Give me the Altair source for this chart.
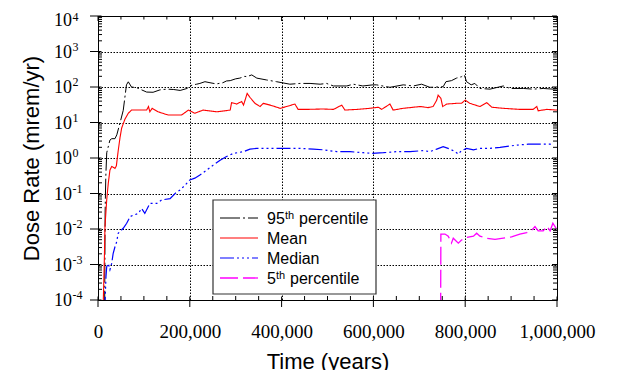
import altair as alt
import pandas as pd

# ---------------- data ----------------
names = ["95th percentile", "Mean", "Median", "5th percentile"]
colors = ["#000000", "#ff0000", "#0000ff", "#ff00ff"]

t_p95 = [14500, 15500, 17000, 19000, 22000, 26000, 30000, 37000, 41000, 48000, 55000, 62000, 66000,
         73000, 85000, 95000, 106000, 120000, 135000, 150000, 165000, 179000, 194000, 200000, 207000,
         215000, 222000, 233000, 244000, 258000, 272000, 280000, 288000, 300000, 309000, 320000, 324000,
         335000, 346000, 367000, 389000, 418000, 440000, 462000, 484000, 498000, 513000, 542000, 556000,
         577000, 599000, 607000, 636000, 665000, 687000, 705000, 723000, 752000, 758000, 770000, 781000,
         792000, 798000, 803000, 813000, 821000, 832000, 854000, 883000, 898000, 927000, 948000, 970000,
         992000, 1000000]
v_p95 = [5e-5, 0.03, 0.3, 1.4, 2.0, 3.2, 3.5, 3.5, 4.5, 9.8, 22, 115, 140, 100, 95, 83, 72, 71, 83, 87,
         85, 80, 91, 107, 115, 120, 126, 141, 132, 122, 132, 148, 151, 170, 178, 200, 195, 219, 178, 158,
         141, 120, 126, 126, 120, 126, 107, 107, 120, 107, 115, 115, 98, 115, 107, 120, 98, 102, 141, 151,
         178, 195, 219, 141, 115, 126, 91, 87, 107, 91, 91, 87, 91, 87, 89]

t_mean = [11000, 13800, 15200, 19000, 22400, 26000, 29800, 33000, 37000, 40000, 44000, 48000, 51600,
          58800, 66000, 73000, 88000, 106000, 110000, 113000, 118000, 131000, 153000, 182000, 197000,
          211000, 229000, 259000, 288000, 291000, 302000, 313000, 317000, 325000, 331000, 342000, 353000,
          360000, 375000, 397000, 411000, 429000, 436000, 455000, 490000, 513000, 531000, 538000, 564000,
          592000, 611000, 618000, 636000, 643000, 665000, 702000, 719000, 730000, 738000, 741000, 747000,
          751000, 760000, 781000, 792000, 800000, 810000, 832000, 847000, 858000, 883000, 919000, 948000,
          956000, 959000, 978000, 1000000]
v_mean = [5e-5, 1.35e-3, 0.0117, 0.066, 0.195, 0.457, 0.575, 0.55, 0.51, 0.6, 1.6, 3.8, 7.0, 12.5, 18.2,
          22.4, 22.4, 22.4, 28.2, 20, 25.1, 20, 16.2, 16.2, 22.4, 18.2, 22.4, 20, 22.4, 36.3, 33.1, 38.9,
          30.9, 66, 51.3, 34.7, 28.2, 34.7, 30.9, 25.1, 28.2, 33.1, 23.4, 23.4, 24, 23.4, 30.9, 22.4, 23.4,
          25.1, 26.9, 23.4, 33.1, 22.4, 25.1, 28.2, 26.3, 28.2, 42.7, 58.9, 47.9, 28.2, 33.1, 34.7, 34.7,
          42.7, 34.7, 28.2, 36.3, 26.9, 25.1, 23.4, 23.4, 28.2, 21.4, 23.4, 22.4]

t_med = [15000, 16000, 17400, 19000, 22400, 26000, 29800, 33000, 37000, 40700, 44000, 55000, 62500, 70000,
         77000, 88000, 95000, 102000, 113000, 128000, 139000, 157000, 168000, 179000, 190000, 200000,
         211000, 222000, 237000, 251000, 266000, 280000, 295000, 317000, 331000, 346000, 397000, 440000,
         469000, 491000, 520000, 549000, 578000, 596000, 622000, 651000, 680000, 709000, 723000, 738000,
         752000, 767000, 778000, 785000, 792000, 803000, 818000, 832000, 854000, 876000, 898000, 919000,
         937000, 985000, 992000]
v_med = [5e-5, 1.5e-4, 4.6e-4, 8.7e-4, 1.07e-3, 7.1e-4, 1.07e-3, 2.04e-3, 3.16e-3, 4.37e-3, 7.6e-3,
         0.0105, 0.0145, 0.0224, 0.0245, 0.0275, 0.038, 0.0275, 0.0525, 0.0525, 0.066, 0.072, 0.1, 0.126,
         0.174, 0.24, 0.27, 0.33, 0.457, 0.63, 0.87, 1.10, 1.35, 1.51, 1.78, 1.86, 1.86, 1.86, 1.78, 1.70,
         1.51, 1.51, 1.41, 1.35, 1.41, 1.51, 1.51, 1.62, 1.51, 1.78, 2.09, 1.78, 1.51, 1.29, 1.62, 1.86,
         1.70, 1.86, 1.86, 2.0, 2.19, 2.34, 2.45, 2.45, 2.34]

t_p5 = [746500, 747000, 756000, 763000, 770000, 774000, 785000, 792000, 803000, 818000, 825000, 832000,
        847000, 865000, 883000, 901000, 919000, 934000, 945000, 952000, 959000, 970000, 978000, 985000,
        991000, 999000]
v_p5 = [5e-5, 7.2e-3, 7.2e-3, 6.3e-3, 4.0e-3, 5.5e-3, 4.0e-3, 4.9e-3, 5.75e-3, 6.3e-3, 7.6e-3, 6.3e-3,
        5.5e-3, 5.1e-3, 5.5e-3, 6.0e-3, 7.2e-3, 7.9e-3, 9.3e-3, 0.0117, 8.9e-3, 8.9e-3, 0.012, 8.9e-3,
        0.0145, 0.01]

x_major = [0, 200000, 400000, 600000, 800000, 1000000]
x_minor = [k * 50000 for k in range(21) if k % 4]
y_major = [1e-4, 1e-3, 1e-2, 1e-1, 1e0, 1e1, 1e2, 1e3]
y_exp = ["-4", "-3", "-2", "-1", "0", "1", "2", "3"]
y_top = [1e4]
y_top_exp = ["4"]
y_minor = [m * 10.0 ** k for k in range(-4, 4) for m in range(2, 10)]

legend_main = ["95", "Mean", "Median", "5"]

# ---------------- frames ----------------
series = [(names[0], t_p95, v_p95), (names[1], t_mean, v_mean),
          (names[2], t_med, v_med), (names[3], t_p5, v_p5)]
df = pd.concat([pd.DataFrame({"name": n, "t": t, "dose": v}) for n, t, v in series], ignore_index=True)
df["order"] = df["name"].map({n: i for i, n in enumerate(names)})

W, H = 459, 284
SERIF = "Liberation Serif"
SANS = "Liberation Sans"

xscale = alt.Scale(domain=[0, 1000000], nice=False, zero=False)
yscale = alt.Scale(type="log", domain=[1e-4, 1e4], nice=False)
lscale = alt.Scale(type="point", domain=names, range=[202, 262], padding=0)

x_axis = alt.Axis(
    values=x_major, format=",d", grid=True, ticks=False, domain=False,
    labelFont=SERIF, labelFontSize=19, labelColor="black", labelFlush=False,
    labelBaseline="alphabetic", labelPadding=37,
    gridDash=[1.5, 1.5], gridColor="black", gridWidth=1, gridOpacity=1,
    title="Time (years)", titleFont=SANS, titleFontSize=22, titleFontWeight="normal",
    titleColor="black", titleY=68, titleBaseline="alphabetic")
X = alt.X("t:Q", scale=xscale, axis=x_axis, title="Time (years)")

color = alt.Color("name:N", scale=alt.Scale(domain=names, range=colors), legend=None)
dash = alt.StrokeDash("name:N", scale=alt.Scale(domain=names,
                      range=[[20, 3, 2, 3], [1, 0], [14, 3, 2, 3, 2, 3, 2, 3], [18, 5]]), legend=None)
swidth = alt.StrokeWidth("name:N", scale=alt.Scale(domain=names, range=[1.0, 1.3, 1.2, 1.3]), legend=None)

lines = alt.Chart(df).mark_line(clip=True).encode(
    x=X,
    y=alt.Y("dose:Q", scale=yscale, axis=alt.Axis(
        values=y_major + y_top, labels=False, ticks=False, domain=False, grid=True,
        gridDash=[1.5, 1.5], gridColor="black", gridWidth=1, gridOpacity=1,
        title="Dose Rate (mrem/yr)", titleFont=SANS, titleFontSize=22, titleFontWeight="normal",
        titleColor="black", titleAngle=270, titleX=-60, titleY=142, titleAlign="center",
        titleBaseline="alphabetic")),
    color=color, strokeDash=dash, strokeWidth=swidth, order="order:Q",
    detail="name:N",
)

xmaj_df = pd.DataFrame({"t": x_major})
xmin_df = pd.DataFrame({"t": x_minor})
ymaj_df = pd.DataFrame({"v": y_major + y_top})
ylab_df = pd.DataFrame({"v": y_major, "e": y_exp})
ytop_df = pd.DataFrame({"v": y_top, "e": y_top_exp})
ymin_df = pd.DataFrame({"v": y_minor})

def xt(data, y1, y2):
    return alt.Chart(data).mark_rule(color="black", strokeWidth=1).encode(
        x=X, y=alt.value(y1), y2=alt.value(y2))

def yt(data, x1, x2):
    return alt.Chart(data).mark_rule(color="black", strokeWidth=1).encode(
        y=alt.Y("v:Q", scale=yscale, axis=None), x=alt.value(x1), x2=alt.value(x2))

ticks = [
    xt(xmaj_df, H - 3.5, H + 7), xt(xmin_df, H - 4, H),
    xt(xmaj_df, 0, 5), xt(xmin_df, 0, 3.5),
    yt(ymaj_df, -8, 3.5), yt(ymin_df, 0, 4),
    yt(ymaj_df, W - 5, W), yt(ymin_df, W - 4, W),
]

def ylabels(data, dy10, dyexp):
    a = alt.Chart(data).mark_text(align="right", baseline="middle", dy=dy10, font=SERIF,
                                  fontSize=18, color="black").encode(
        y=alt.Y("v:Q", scale=yscale, axis=None), x=alt.value(-26), text=alt.value("10"))
    b = alt.Chart(data).mark_text(align="left", baseline="middle", dy=dyexp, font=SERIF,
                                  fontSize=12, color="black").encode(
        y=alt.Y("v:Q", scale=yscale, axis=None), x=alt.value(-25.5), text="e:N")
    return [a, b]

ylabel_layers = ylabels(ylab_df, 1, -5) + ylabels(ytop_df, 4.5, 1)

# ---------------- legend ----------------
leg_df = pd.DataFrame({"name": names, "main": legend_main})
box = alt.Chart(alt.Data(values=[{}])).mark_rect(fill="white", stroke="#333333", strokeWidth=1.2).encode(
    x=alt.value(115), x2=alt.value(278), y=alt.value(184), y2=alt.value(278))
leg_lines = alt.Chart(leg_df).mark_rule().encode(
    x=alt.value(122), x2=alt.value(160), y=alt.Y("name:N", scale=lscale, axis=None),
    color=color, strokeDash=dash, strokeWidth=swidth)
leg_text = alt.Chart(leg_df).mark_text(align="left", baseline="alphabetic", dy=6, font=SANS,
                                       fontSize=16, color="black").encode(
    x=alt.value(169), y=alt.Y("name:N", scale=lscale, axis=None), text="main:N")

def sup_row(name, xs, xp):
    base = alt.Chart(leg_df).transform_filter(alt.datum.name == name)
    s = base.mark_text(align="left", baseline="alphabetic", dy=1, font=SANS, fontSize=11,
                       color="black").encode(
        x=alt.value(xs), y=alt.Y("name:N", scale=lscale, axis=None), text=alt.value("th"))
    p = base.mark_text(align="left", baseline="alphabetic", dy=6, font=SANS, fontSize=16,
                       color="black").encode(
        x=alt.value(xp), y=alt.Y("name:N", scale=lscale, axis=None), text=alt.value("percentile"))
    return [s, p]

legend_layers = [box, leg_lines, leg_text] + sup_row(names[0], 187, 201) + sup_row(names[3], 178, 192)

chart = alt.layer(lines, *ticks, *ylabel_layers, *legend_layers).resolve_scale(
    y="independent"
).properties(
    width=W, height=H,
    padding={"left": 90, "top": 8, "right": 45, "bottom": 70},
    autosize=alt.AutoSizeParams(type="none"),
    background="white",
).configure_view(stroke="black", strokeWidth=1)

chart.save("out.html", embed_options={"renderer": "svg", "actions": False})
